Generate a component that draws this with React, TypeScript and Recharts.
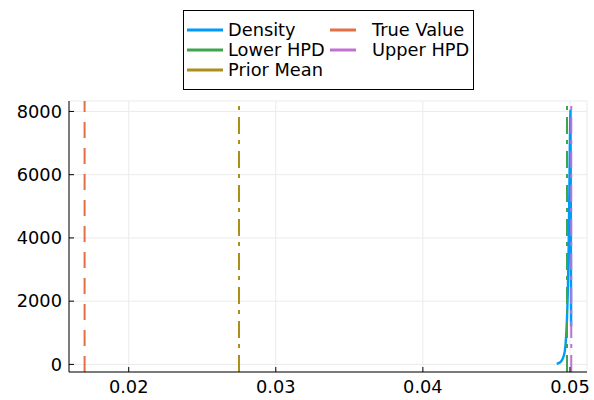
import React from 'react';
import { LineChart, Line, XAxis, YAxis, CartesianGrid, ReferenceLine } from 'recharts';

// posterior density
const densityX = [0.0491, 0.0492, 0.0493, 0.0494, 0.0495, 0.0496, 0.04965, 0.0497, 0.04975, 0.0498, 0.04985, 0.0499, 0.04993, 0.04996, 0.04999, 0.05002, 0.05004, 0.05006, 0.05008];
const densityY = [20, 30, 55, 95, 170, 300, 420, 620, 950, 1450, 2200, 3300, 4300, 5500, 6800, 7800, 8050, 5000, 1200];

const trueValue = 0.0170;
const priorMean = 0.0275;
const lowerHPD = 0.0498;
const upperHPD = 0.05009;

const xTicks = [0.02, 0.03, 0.04, 0.05];
const yTicks = [0, 2000, 4000, 6000, 8000];

const FONT = '"DejaVu Sans", sans-serif';

const legendItems = [
  { label: 'Density', color: '#009AFA', col: 0, row: 0 },
  { label: 'True Value', color: '#E36F47', col: 1, row: 0 },
  { label: 'Lower HPD', color: '#3EA44E', col: 0, row: 1 },
  { label: 'Upper HPD', color: '#C271D2', col: 1, row: 1 },
  { label: 'Prior Mean', color: '#AC8E18', col: 0, row: 2 },
];

export default function App() {
  const data = densityX.map((x, i) => ({ x, y: densityY[i] }));

  return (
    <div style={{ position: 'absolute', left: 0, top: 0, width: 594, height: 400, background: '#fff' }}>
      <LineChart width={594} height={400} data={data} margin={{ top: 101, right: 7, bottom: 0, left: 0 }}>
        <CartesianGrid stroke="#ebebeb" strokeWidth={1} />
        <XAxis
          dataKey="x"
          type="number"
          domain={[0.01594, 0.05116]}
          ticks={xTicks}
          tickFormatter={(v) => String(v)}
          height={28}
          stroke="#000"
          tickSize={-5}
          tickMargin={13}
          tick={{ fill: '#000', fontSize: 17.8, fontFamily: FONT }}
          allowDataOverflow
        />
        <YAxis
          type="number"
          domain={[-240, 8330]}
          ticks={yTicks}
          width={69}
          stroke="#000"
          tickSize={-5}
          tickMargin={12}
          tick={{ fill: '#000', fontSize: 17.8, fontFamily: FONT }}
          allowDataOverflow
        />
        <Line dataKey="y" stroke="#009AFA" strokeWidth={2.4} dot={false} type="linear" isAnimationActive={false} />
        <ReferenceLine x={trueValue} stroke="#E36F47" strokeWidth={2} strokeDasharray="16 10" />
        <ReferenceLine x={lowerHPD} stroke="#3EA44E" strokeWidth={2} strokeDasharray="17 7 4 6" />
        <ReferenceLine x={upperHPD} stroke="#C271D2" strokeWidth={2} strokeDasharray="17 7 4 6" />
        <ReferenceLine x={priorMean} stroke="#AC8E18" strokeWidth={2} strokeDasharray="17 7 4 6" />
      </LineChart>
      <svg width={594} height={100} style={{ position: 'absolute', left: 0, top: 0 }}>
        <rect x={183.5} y={10.5} width={290} height={79} fill="#fff" stroke="#000" strokeWidth={1} />
        {legendItems.map((it) => {
          const cy = 30 + it.row * 20;
          const lx1 = it.col === 0 ? 187 : 330;
          const lx2 = it.col === 0 ? 223 : 356;
          const tx = it.col === 0 ? 228 : 372;
          return (
            <g key={it.label}>
              <line x1={lx1} x2={lx2} y1={cy} y2={cy} stroke={it.color} strokeWidth={3} />
              <text x={tx} y={cy + 6.4} fontSize={17.8} fontFamily={FONT} fill="#000">{it.label}</text>
            </g>
          );
        })}
      </svg>
    </div>
  );
}
